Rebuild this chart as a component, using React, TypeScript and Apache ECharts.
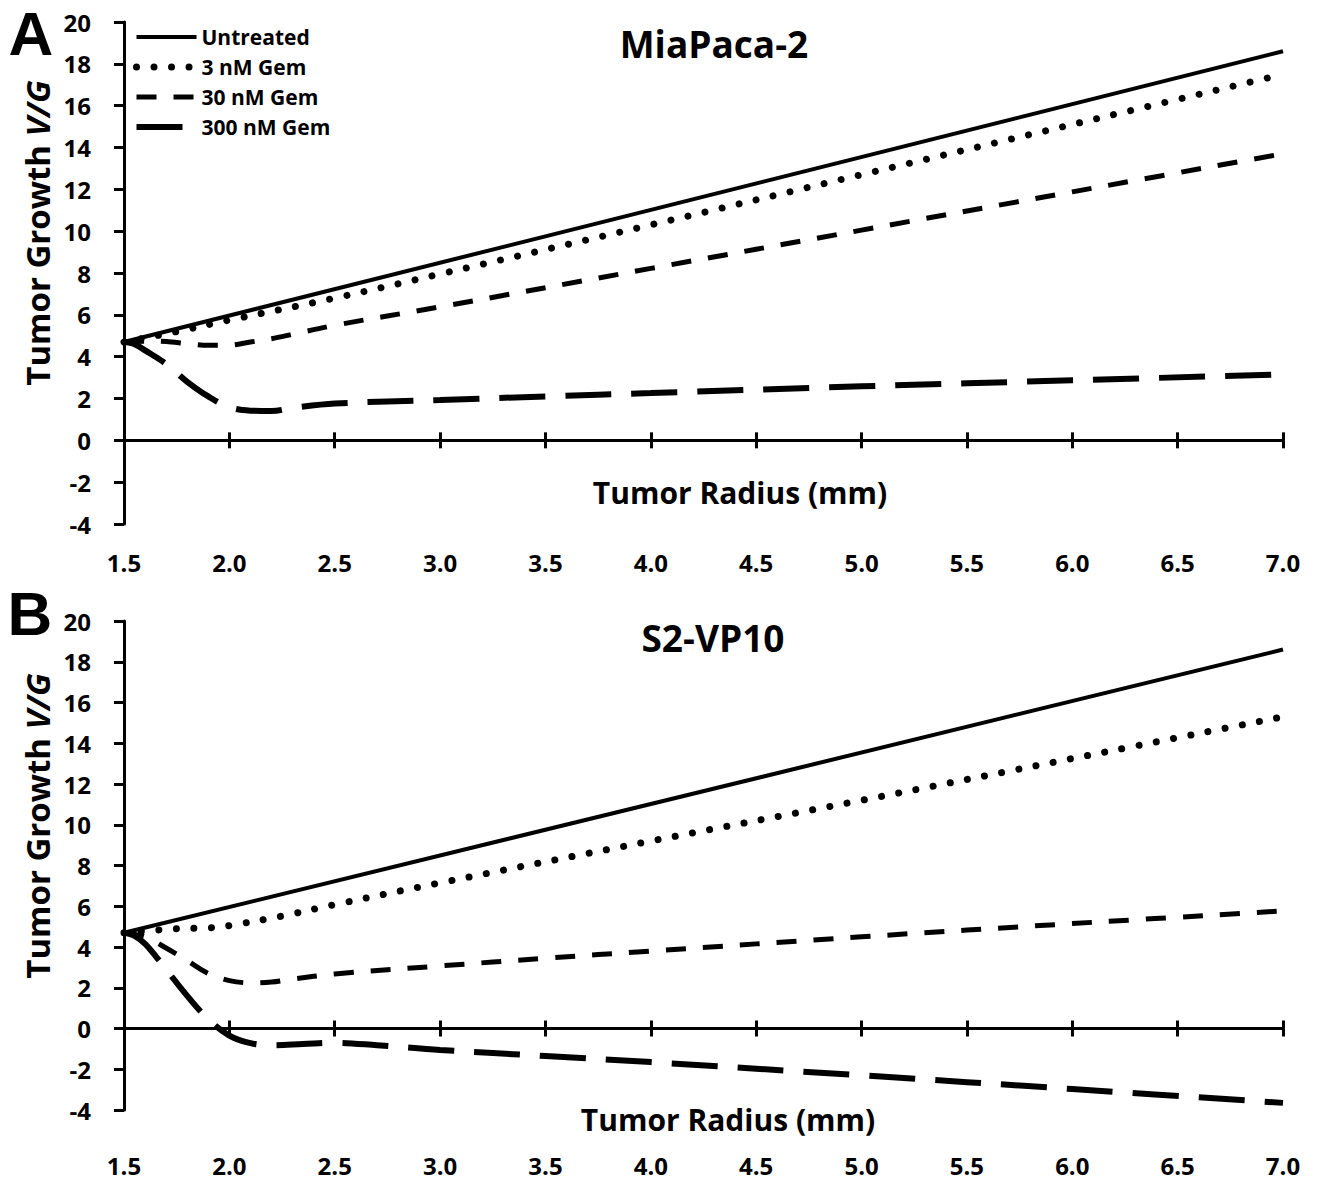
import React, { useEffect, useRef } from "react";
import * as echarts from "echarts";

const FONT = "'Open Sans', Lato, sans-serif";

const seriesNames = ["Untreated", "3 nM Gem", "30 nM Gem", "300 nM Gem"];
const panelTitles = ["MiaPaca-2", "S2-VP10"];
const panelLetters = ["A", "B"];
const xAxisTitle = "Tumor Radius (mm)";

// Panel A (MiaPaca-2)
const untreatedX_A = [1.5, 7.0];
const untreatedY_A = [4.7, 18.6];
const gem3X_A = [1.5, 1.75, 2.0, 2.5, 3.0, 4.0, 5.0, 6.0, 7.0];
const gem3Y_A = [4.7, 5.2, 5.75, 6.8, 7.95, 10.3, 12.7, 15.1, 17.5];
const gem30X_A = [1.5, 1.6, 1.7, 1.8, 1.9, 2.0, 2.1, 2.2, 2.3, 2.5, 3.0, 4.0, 5.0, 6.0, 7.0];
const gem30Y_A = [4.7, 4.74, 4.72, 4.62, 4.54, 4.55, 4.7, 4.86, 5.07, 5.5, 6.38, 8.22, 10.05, 11.88, 13.7];
const gem300X_A = [1.5, 1.55, 1.6, 1.7, 1.8, 1.9, 2.0, 2.1, 2.2, 2.3, 2.5, 3.0, 3.5, 4.0, 5.0, 6.0, 7.0];
const gem300Y_A = [4.7, 4.6, 4.3, 3.65, 2.8, 2.1, 1.58, 1.42, 1.4, 1.55, 1.76, 1.93, 2.1, 2.26, 2.58, 2.87, 3.15];

// Panel B (S2-VP10)
const untreatedX_B = [1.5, 7.0];
const untreatedY_B = [4.7, 18.6];
const gem3X_B = [1.5, 1.75, 1.9, 2.0, 2.25, 2.5, 3.0, 4.0, 5.0, 6.0, 7.0];
const gem3Y_B = [4.7, 4.9, 4.94, 5.05, 5.52, 6.08, 7.15, 9.2, 11.2, 13.25, 15.3];
const gem30X_B = [1.5, 1.6, 1.7, 1.8, 1.9, 2.0, 2.1, 2.2, 2.3, 2.5, 3.0, 3.5, 4.0, 5.0, 6.0, 7.0];
const gem30Y_B = [4.7, 4.5, 3.95, 3.33, 2.7, 2.35, 2.24, 2.28, 2.42, 2.68, 3.07, 3.45, 3.8, 4.5, 5.15, 5.77];
const gem300X_B = [1.5, 1.55, 1.6, 1.65, 1.7, 1.8, 1.9, 2.0, 2.1, 2.2, 2.35, 2.5, 2.7, 3.0, 3.5, 4.0, 5.0, 6.0, 7.0];
const gem300Y_B = [4.7, 4.55, 4.15, 3.55, 2.9, 1.6, 0.45, -0.35, -0.72, -0.82, -0.76, -0.7, -0.82, -1.05, -1.35, -1.65, -2.3, -2.97, -3.65];

const X_MIN = 1.5;
const X_MAX = 7.0;
const X_STEP = 0.5;
const Y_MIN = -4;
const Y_MAX = 20;
const Y_STEP = 2;

const zip = (xs: number[], ys: number[]) => xs.map((x, i) => [x, ys[i]]);

const lineStyles: any[] = [
  { color: "#000", width: 4, type: "solid", cap: "butt" },
  { color: "#000", width: 7, type: [0.01, 17.5], cap: "round" },
  { color: "#000", width: 5, type: [20, 17], cap: "butt" },
  { color: "#000", width: 6, type: [46, 20], cap: "butt" },
];

export default function App() {
  const ref = useRef<HTMLDivElement>(null);
  useEffect(() => {
    if (!ref.current) return;
    const chart = echarts.init(ref.current, null, { renderer: "svg" });

    const grids = [
      { left: 124, width: 1159, top: 22, height: 502 },
      { left: 124, width: 1159, top: 621, height: 489 },
    ];
    const labelMargins = [26, 43];

    const xAxes: any[] = [];
    const yAxes: any[] = [];
    grids.forEach((_, g) => {
      const common = { type: "value", gridIndex: g, min: X_MIN, max: X_MAX, interval: X_STEP, splitLine: { show: false } };
      xAxes.push({
        ...common,
        position: "bottom",
        axisLine: { show: true, onZero: true, onZeroAxisIndex: g, lineStyle: { color: "#000", width: 3 } },
        axisTick: { show: true, inside: false, length: 8, lineStyle: { color: "#000", width: 3 } },
        axisLabel: { show: false },
      });
      xAxes.push({
        ...common,
        position: "top",
        axisLine: { show: false, onZero: true, onZeroAxisIndex: g },
        axisTick: { show: true, inside: false, length: 8, lineStyle: { color: "#000", width: 3 } },
        axisLabel: { show: false },
      });
      xAxes.push({
        ...common,
        position: "bottom",
        axisLine: { show: false, onZero: false },
        axisTick: { show: false },
        axisLabel: {
          show: true,
          margin: labelMargins[g],
          color: "#000",
          fontFamily: FONT,
          fontWeight: "bold",
          fontSize: 24,
          formatter: (v: number) => v.toFixed(1),
        },
      });
      yAxes.push({
        type: "value",
        gridIndex: g,
        min: Y_MIN,
        max: Y_MAX,
        interval: Y_STEP,
        splitLine: { show: false },
        axisLine: { show: true, onZero: false, lineStyle: { color: "#000", width: 3 } },
        axisTick: { show: true, inside: false, length: 10, lineStyle: { color: "#000", width: 3 } },
        axisLabel: { color: "#000", fontFamily: FONT, fontWeight: "bold", fontSize: 24, margin: 33 },
      });
    });

    const panelData = [
      [zip(untreatedX_A, untreatedY_A), zip(gem3X_A, gem3Y_A), zip(gem30X_A, gem30Y_A), zip(gem300X_A, gem300Y_A)],
      [zip(untreatedX_B, untreatedY_B), zip(gem3X_B, gem3Y_B), zip(gem30X_B, gem30Y_B), zip(gem300X_B, gem300Y_B)],
    ];

    const series: any[] = [];
    panelData.forEach((sets, g) => {
      sets.forEach((data, i) => {
        series.push({
          type: "line",
          name: seriesNames[i],
          xAxisIndex: g * 3,
          yAxisIndex: g,
          data,
          symbol: "none",
          showSymbol: false,
          smooth: i === 0 ? false : 0.35,
          itemStyle: { color: "#000" },
          lineStyle: lineStyles[i],
          z: 10 - i,
        });
      });
    });

    const yTitleCenters = [233, 826];
    const titleCenters = [[714, 43], [713, 637]];
    const xTitleCenters = [[740, 492], [728, 1119]];
    const letterCenters = [[31, 33], [30, 613]];

    const graphic: any[] = [];
    [0, 1].forEach((g) => {
      graphic.push({
        type: "text",
        x: letterCenters[g][0],
        y: letterCenters[g][1],
        style: {
          text: panelLetters[g],
          fontFamily: "'Liberation Sans', Arial, sans-serif",
          fontWeight: "bold",
          fontSize: 62,
          fill: "#000",
          align: "center",
          verticalAlign: "middle",
        },
      });
      graphic.push({
        type: "text",
        x: titleCenters[g][0],
        y: titleCenters[g][1],
        style: {
          text: panelTitles[g],
          fontFamily: FONT,
          fontWeight: "bold",
          fontSize: 37,
          fill: "#000",
          align: "center",
          verticalAlign: "middle",
        },
      });
      graphic.push({
        type: "text",
        x: xTitleCenters[g][0],
        y: xTitleCenters[g][1],
        style: {
          text: xAxisTitle,
          fontFamily: FONT,
          fontWeight: "bold",
          fontSize: 30,
          fill: "#000",
          align: "center",
          verticalAlign: "middle",
        },
      });
      graphic.push({
        type: "text",
        x: 37,
        y: yTitleCenters[g],
        rotation: Math.PI / 2,
        style: {
          text: "Tumor Growth {i|V/G}",
          fontFamily: FONT,
          fontWeight: "bold",
          fontSize: 33,
          fill: "#000",
          align: "center",
          verticalAlign: "middle",
          rich: {
            i: { fontFamily: FONT, fontWeight: "bold", fontStyle: "italic", fontSize: 33, fill: "#000" },
          },
        },
      });
    });

    chart.setOption({
      animation: false,
      backgroundColor: "#fff",
      grid: grids,
      xAxis: xAxes,
      yAxis: yAxes,
      legend: {
        orient: "vertical",
        left: 128,
        top: 21,
        itemWidth: 60,
        itemHeight: 14,
        itemGap: 8,
        selectedMode: false,
        itemStyle: { color: "rgba(0,0,0,0)", borderWidth: 0, opacity: 0 },
        textStyle: { fontFamily: FONT, fontWeight: "bold", fontSize: 21, color: "#000", lineHeight: 22 },
        data: seriesNames.map((n, i) => ({
          name: n,
          lineStyle: { width: lineStyles[i].width, type: lineStyles[i].type, cap: lineStyles[i].cap, color: "#000" },
        })),
      },
      graphic,
      series,
    });

    return () => chart.dispose();
  }, []);

  return (
    <div
      ref={ref}
      style={{ position: "fixed", left: 0, top: 0, width: 1319, height: 1182, background: "#fff" }}
    />
  );
}
